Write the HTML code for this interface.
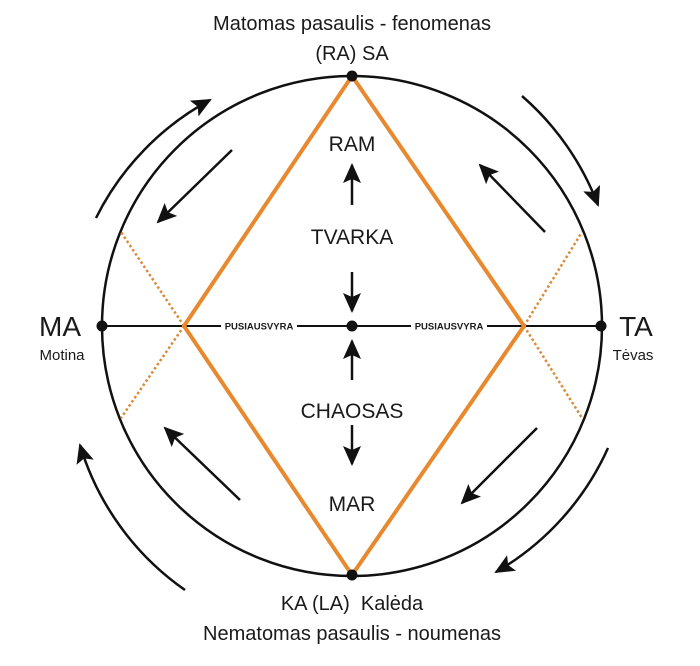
<!DOCTYPE html>
<html><head><meta charset="utf-8"><style>
html,body{margin:0;padding:0;background:#fff;}
svg{display:block;}
text{font-family:"Liberation Sans",sans-serif;fill:#1a1a1a;}
</style></head><body>
<svg width="700" height="666" viewBox="0 0 700 666" xmlns="http://www.w3.org/2000/svg">
<defs>
<marker id="ahb" markerWidth="20" markerHeight="18" refX="18" refY="9" orient="auto" markerUnits="userSpaceOnUse" viewBox="0 0 20 18">
<path d="M0,0 L20,9 L0,18 L4,9 Z" fill="#111"/>
</marker>
</defs>
<circle cx="352" cy="326" r="250" fill="none" stroke="#111" stroke-width="2.5"/>
<line x1="102" y1="326" x2="601" y2="326" stroke="#111" stroke-width="2"/>
<rect x="221" y="319" width="76" height="14" fill="#fff"/>
<rect x="411" y="319" width="76" height="14" fill="#fff"/>
<text x="259" y="329.5" font-size="9.5" font-weight="bold" text-anchor="middle">PUSIAUSVYRA</text>
<text x="449" y="329.5" font-size="9.5" font-weight="bold" text-anchor="middle">PUSIAUSVYRA</text>
<g stroke="#d98a3a" stroke-width="2.5" stroke-dasharray="2.5,2.5" fill="none">
<line x1="184" y1="326" x2="121" y2="232"/>
<line x1="184" y1="326" x2="121" y2="418"/>
<line x1="524" y1="326" x2="582" y2="232"/>
<line x1="524" y1="326" x2="582" y2="418"/>
</g>
<polygon points="352,76 524,326 352,575 184,326" fill="none" stroke="#e8892f" stroke-width="4" stroke-linejoin="miter"/>
<g fill="#111">
<circle cx="102" cy="326" r="5.5"/><circle cx="352" cy="326" r="5.5"/><circle cx="601" cy="326" r="5.5"/>
<circle cx="352" cy="76" r="5.5"/><circle cx="352" cy="575" r="5.5"/>
</g>
<g stroke="#111" stroke-width="2.5" fill="none" marker-end="url(#ahb)">
<path d="M96,218 A272,272 0 0 1 210,100"/>
<path d="M522,96 A272,272 0 0 1 598,205"/>
<path d="M185,590 A272,272 0 0 1 80,445"/>
<path d="M608,448 A272,272 0 0 1 496,572"/>
<line x1="232" y1="150" x2="158" y2="222"/>
<line x1="545" y1="232" x2="480" y2="165"/>
<line x1="240" y1="500" x2="165" y2="428"/>
<line x1="537" y1="428" x2="462" y2="503"/>
<line x1="352" y1="205" x2="352" y2="165"/>
<line x1="352" y1="272" x2="352" y2="311"/>
<line x1="352" y1="380" x2="352" y2="341"/>
<line x1="352" y1="425" x2="352" y2="464"/>
</g>
<text x="352" y="30" font-size="20" text-anchor="middle">Matomas pasaulis - fenomenas</text>
<text x="352" y="60" font-size="20" text-anchor="middle">(RA) SA</text>
<text x="352" y="151" font-size="21" text-anchor="middle">RAM</text>
<text x="352" y="244" font-size="21" text-anchor="middle">TVARKA</text>
<text x="352" y="418" font-size="21" text-anchor="middle">CHAOSAS</text>
<text x="352" y="511" font-size="21" text-anchor="middle">MAR</text>
<text x="352" y="610" font-size="20" text-anchor="middle">KA (LA)&#160; Kalėda</text>
<text x="352" y="640" font-size="20" text-anchor="middle">Nematomas pasaulis - noumenas</text>
<text x="60" y="336" font-size="28" text-anchor="middle">MA</text>
<text x="62" y="360" font-size="15" text-anchor="middle">Motina</text>
<text x="636" y="336" font-size="28" text-anchor="middle">TA</text>
<text x="633" y="360" font-size="15" text-anchor="middle">Tėvas</text>
</svg>
</body></html>
